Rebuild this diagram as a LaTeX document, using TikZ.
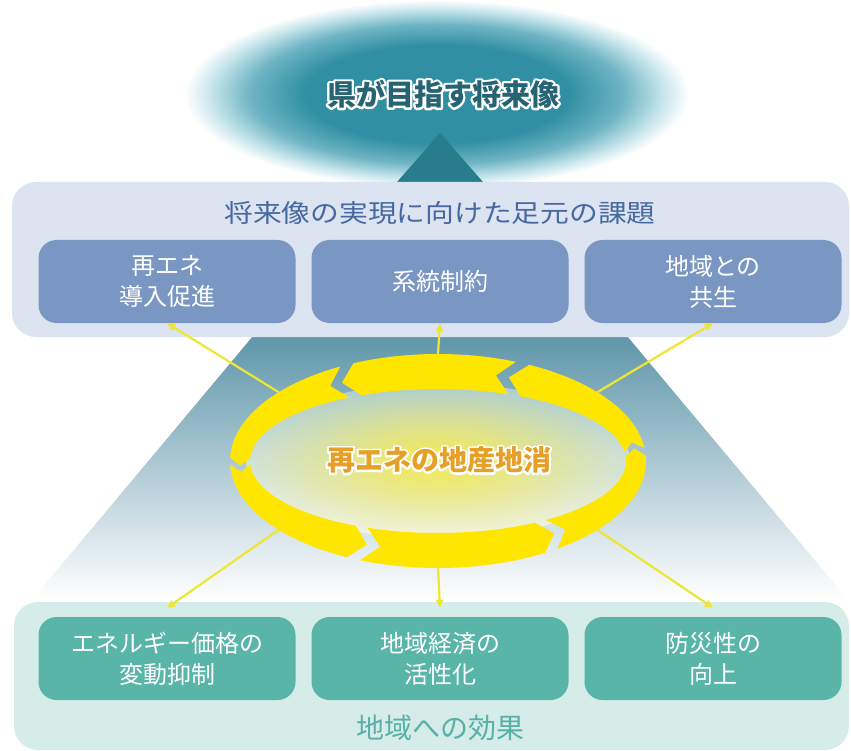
\documentclass[tikz,border=0pt]{standalone}
\usepackage{fontspec}
\usepackage{graphicx}
\newfontfamily\jp{Noto Sans CJK JP}
\usetikzlibrary{calc,arrows.meta,fadings}
\definecolor{glowteal}{RGB}{48,143,162}
\definecolor{glowmid}{RGB}{110,180,196}
\definecolor{glowpale}{RGB}{200,230,236}
\definecolor{triBlue}{RGB}{40,125,140}
\definecolor{trapTop}{RGB}{95,150,170}
\definecolor{trapMid}{RGB}{170,208,224}
\definecolor{panelA}{RGB}{220,227,241}
\definecolor{titleBlue}{RGB}{70,105,160}
\definecolor{boxBlue}{RGB}{122,150,194}
\definecolor{panelB}{RGB}{214,236,233}
\definecolor{boxTeal}{RGB}{89,181,168}
\definecolor{titleTeal}{RGB}{88,176,166}
\definecolor{goalC}{RGB}{38,100,115}
\definecolor{coreText}{RGB}{230,160,40}
\definecolor{ringY}{RGB}{255,230,0}
\definecolor{lineY}{RGB}{238,230,50}
\definecolor{coreY}{RGB}{246,234,80}
\definecolor{coreTop}{RGB}{170,204,212}
\definecolor{coreBot}{RGB}{244,246,228}
\pgfdeclareradialshading{glowshade}{\pgfpointorigin}{color(0bp)=(glowteal); color(13bp)=(glowteal); color(18.5bp)=(glowmid); color(22.5bp)=(glowpale); color(25bp)=(white); color(50bp)=(white)}
\tikzfading[name=coreglow, inner color=transparent!0, outer color=transparent!100]
\newcommand\halotxt[4]{%
  \leavevmode
  \rlap{\color{#1}\special{pdf:literal direct 1 Tr #3 w 1 j 1 J}#4\special{pdf:literal direct 0 Tr}}%
  {\color{#2}#4}}
\begin{document}
\begin{tikzpicture}[x=1pt,y=-1pt,
  panelstyle/.style={rounded corners=24pt, inner sep=0pt, minimum width=837pt, minimum height=155pt},
  tbox/.style={fill=boxBlue, rounded corners=18pt, minimum width=257pt, minimum height=83pt, inner sep=0pt,
    text=white, align=center, font=\jp\fontsize{24}{31}\selectfont},
  bbox/.style={tbox, fill=boxTeal},
  conn/.style={draw=lineY, line width=2.2pt, -{Triangle[length=8pt,width=7pt]}},
  ring/.style={fill=ringY}]
\useasboundingbox (0,0) rectangle (851,751);
\fill[white] (0,0) rectangle (851,751);
% glow of the goal
\shade[shading=glowshade] (437,94) ellipse [x radius=252, y radius=94];
\fill[triBlue] (397,182) -- (483,182) -- (440,133) -- cycle;
% pyramid
\shade[top color=trapTop, middle color=trapMid, bottom color=white] (253,336) -- (627,336) -- (848,600) -- (32,600) -- cycle;
% top panel
\node[panelstyle, fill=panelA] (tp) at (430.5,259.5) {};
\node[text=titleBlue, font=\jp\fontsize{25}{30}\selectfont, inner sep=0pt] (tt) at (440,213) {\scalebox{1.15}[1]{将来像の実現に向けた足元の課題}};
\node[tbox] (b1) at (167,281.5) {再エネ\\導入促進};
\node[tbox] (b2) at (440,281.5) {系統制約};
\node[tbox] (b3) at (713,281.5) {地域との\\共生};
% bottom panel
\node[panelstyle, fill=panelB, minimum width=835pt, minimum height=148pt] (bp) at (431.5,676) {};
\node[bbox] (e1) at (167,658.5) {エネルギー価格の\\変動抑制};
\node[bbox] (e2) at (440,658.5) {地域経済の\\活性化};
\node[bbox] (e3) at (713,658.5) {防災性の\\向上};
\node[text=titleTeal, font=\jp\fontsize{28}{32}\selectfont, inner sep=0pt] (bt) at (440,728) {地域への効果};
% goal text
\node[font=\jp\bfseries\fontsize{29}{34}\selectfont, inner sep=0pt] (goal) at (443,94) {\halotxt{white}{goalC}{4.5}{県が目指す将来像}};
% ring
\coordinate (C) at (438,461);
\coordinate (rUL) at ($(C)+({208*cos(220)},{107*sin(220)})$);
\coordinate (rT)  at ($(C)+(0,-107)$);
\coordinate (rUR) at ($(C)+({208*cos(320)},{107*sin(320)})$);
\coordinate (rLL) at ($(C)+({208*cos(140)},{107*sin(140)})$);
\coordinate (rB)  at ($(C)+(0,107)$);
\coordinate (rLR) at ($(C)+({208*cos(40)},{107*sin(40)})$);
\coordinate (e1t) at ($(e1.north)+(0,-9)$);
\coordinate (e2t) at ($(e2.north)+(0,-9)$);
\coordinate (e3t) at ($(e3.north)+(0,-9)$);
\draw[conn] (rUL) -- (b1.south);
\draw[conn] (rT) -- (b2.south);
\draw[conn] (rUR) -- (b3.south);
\draw[conn] (rLL) -- (e1t);
\draw[conn] (rB) -- (e2t);
\draw[conn] (rLR) -- (e3t);
\shade[top color=coreTop, bottom color=coreBot] (C) ellipse [x radius=192, y radius=78];
\fill[coreY, path fading=coreglow] (C) ellipse [x radius=192, y radius=78];
\foreach \ga/\gb in {57/114, 114/180, 180/244, 244/294, 294/355, 355/417} {
  \pgfmathsetmacro\sa{\ga+2}
  \pgfmathsetmacro\ta{\ga-3}
  \pgfmathsetmacro\sb{\gb-2}
  \pgfmathsetmacro\tb{\gb-7}
  \fill[ring] ($(C)+({208*cos(\sa)},{107*sin(\sa)})$)
    arc[start angle=\sa, end angle=\sb, x radius=208, y radius=107]
    -- ($(C)+({198*cos(\tb)},{89.5*sin(\tb)})$)
    -- ($(C)+({188*cos(\sb)},{72*sin(\sb)})$)
    arc[start angle=\sb, end angle=\sa, x radius=188, y radius=72]
    -- ($(C)+({198*cos(\ta)},{89.5*sin(\ta)})$) -- cycle;
}
\node[font=\jp\bfseries\fontsize{28}{32}\selectfont, inner sep=0pt] (core) at (439,460) {\halotxt{white}{coreText}{4}{再エネの地産地消}};
\end{tikzpicture}
\end{document}
